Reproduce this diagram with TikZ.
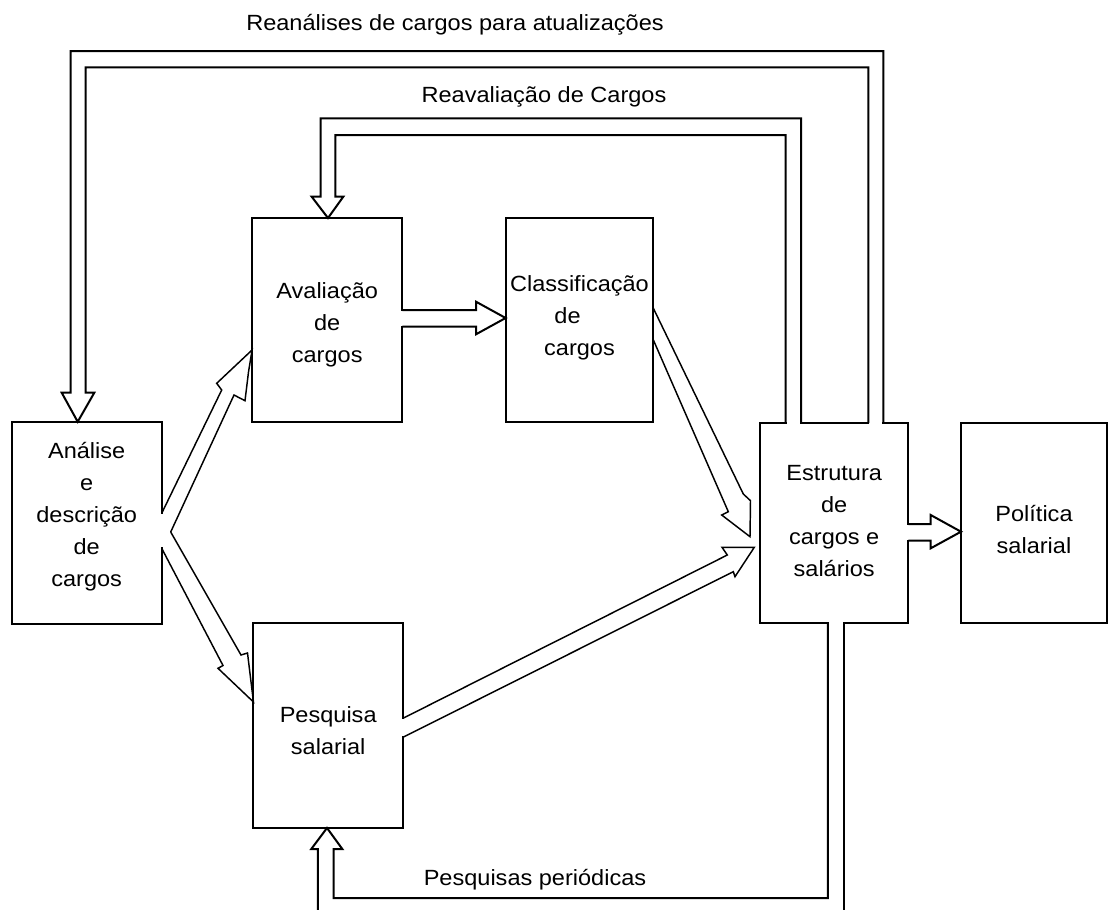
\documentclass[tikz,border=0pt]{standalone}
\usepackage{fontspec}
\setmainfont{Liberation Sans}[FakeStretch=1.07]
\usetikzlibrary{calc}
\begin{document}
\begin{tikzpicture}[x=0.75pt,y=-0.75pt,
  box/.style={draw, line width=1.5pt, rectangle, outer sep=0pt, inner sep=0pt},
  txt/.style={align=center, inner sep=0pt, font=\fontsize{16.5pt}{24pt}\selectfont},
  lbl/.style={font=\fontsize{16.5pt}{24pt}\selectfont, inner sep=0pt},
  flow/.style={line width=1.5pt, line join=miter},
  diag/.style={line width=1.1pt, line join=miter},
  gapfill/.style={fill=white}]
\useasboundingbox (0,0) rectangle (1110,910);

% boxes (text placed at the centre, nudged as in the reference)
\node[box, minimum width=112.5pt, minimum height=151.7pt,
  label={[txt, yshift=5pt]center:{Análise\\e\\descrição\\de\\cargos}}] (ana) at (86.7,522.9) {};
\node[box, minimum width=112.7pt, minimum height=152.8pt,
  label={[txt, yshift=-3.5pt]center:{Avaliação\\de\\cargos}}] (ava) at (327.2,319.9) {};
\node[box, minimum width=110.8pt, minimum height=152.8pt,
  label={[txt, yshift=1.5pt]center:{Classificação\\de\kern18pt\\cargos}}] (cla) at (579.5,319.9) {};
\node[box, minimum width=111.2pt, minimum height=150pt,
  label={[txt, yshift=1.5pt]center:{Estrutura\\de\\cargos e\\salários}}] (est) at (834.2,523) {};
\node[box, minimum width=109.5pt, minimum height=150pt,
  label={[txt, yshift=-4.9pt]center:{Política\\salarial}}] (pol) at (1034,523) {};
\node[box, minimum width=112.1pt, minimum height=153.4pt,
  label={[txt, yshift=-3.75pt]center:{Pesquisa\\salarial}}] (pes) at (328.2,725.7) {};

% labels
\node[lbl] (t1) at (455,25) {Reanálises de cargos para atualizações};
\node[lbl] (t2) at (544,97) {Reavaliação de Cargos};
\node[lbl] (t3) at (535,880) {Pesquisas periódicas};

% openings in box borders where arrows leave or enter
\fill[gapfill] (160.2,514.3) rectangle (163.2,547.3);
\fill[gapfill] (400.85,311) rectangle (403.85,325.7);
\fill[gapfill] (401.5,719.3) rectangle (404.5,736.3);
\fill[gapfill] (786.7,421.5) rectangle (800,424.5);
\fill[gapfill] (869.3,421.5) rectangle (882.3,424.5);
\fill[gapfill] (828.8,621.5) rectangle (842.7,624.5);
\fill[gapfill] (906.85,525) rectangle (909.85,539.7);

% feedback loops
\draw[flow] (est.north -| 883.3,0) -- (883.3,51) -- (70.7,51) -- (70.7,392.7)
  -- (61.7,392.7) -- (ana.north -| 77.7,0) -- (94.3,392.7) -- (85.7,392.7)
  -- (85.7,67.3) -- (868.3,67.3) -- (est.north -| 868.3,0);
\draw[flow] (est.north -| 801,0) -- (801,118.3) -- (320.7,118.3) -- (320.7,196.7)
  -- (311.7,196.7) -- (ava.north -| 328,0) -- (343.3,196.7) -- (335.3,196.7)
  -- (335.3,135) -- (785.7,135) -- (est.north -| 785.7,0);
\draw[flow] (est.south -| 827.8,0) -- (827.8,898) -- (333.7,898) -- (333.7,849)
  -- (342.3,849) -- (pes.south -| 327,0) -- (311.3,849) -- (317.8,849) -- (317.8,910);
\draw[flow] (est.south -| 843.7,0) -- (843.7,910);

% straight block arrows
\draw[flow] (ava.east |- 0,310) -- (476,310) -- (476,301.7) -- (cla.west |- 0,318)
  -- (476,334.3) -- (476,326.7) -- (ava.east |- 0,326.7);
\draw[flow] (est.east |- 0,524) -- (930.7,524) -- (930.7,515) -- (pol.west |- 0,531.7)
  -- (930.7,548.3) -- (930.7,540.7) -- (est.east |- 0,540.7);

% diagonal block arrows
\coordinate (chev) at (170.7,532);
\draw[diag] (ana.east |- 0,513.3) -- (221.7,390) -- (216.7,383.3) -- (ava.west |- 0,350)
  -- (248.5,372) -- (245,400.7) -- (234,395) -- (chev);
\draw[diag] (chev) -- (241,655) -- (247.5,653) -- (pes.west |- 0,702) -- (218,668.3)
  -- (223,665.5) -- (ana.east |- 0,548.3);
\draw[diag] (cla.east |- 0,308.3) -- (743.3,494) -- (750.5,500.7) -- (750,536.7)
  -- (721.7,515) -- (728.3,511.7) -- (cla.east |- 0,340);
\draw[diag] (pes.east |- 0,718.3) -- (727.3,555) -- (722,547.3) -- (754.3,547.3)
  -- (735,576.7) -- (733.3,571.7) -- (pes.east |- 0,737.3);
\end{tikzpicture}
\end{document}
